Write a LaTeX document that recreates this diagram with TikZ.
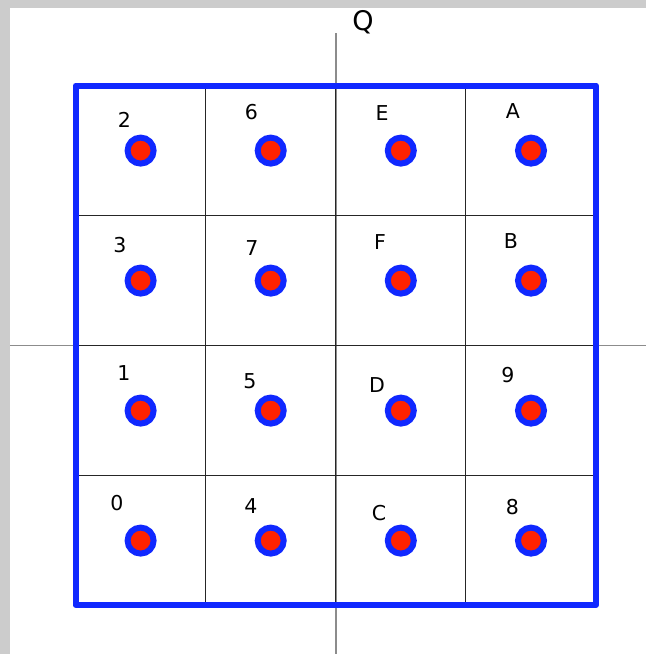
\documentclass[tikz,border=0pt]{standalone}
\usepackage{fontspec}
\setmainfont{DejaVu Sans}
\definecolor{ringblue}{RGB}{16,40,255}
\definecolor{dotred}{RGB}{255,34,0}
\definecolor{axisgray}{RGB}{140,140,140}
\tikzset{
    sym/.style={
        circle, draw=ringblue, fill=dotred,
        line width=6pt, % blue ring round the red dot
        minimum size=26pt, inner sep=0pt
    },
    lbl/.style={font=\fontsize{20.5}{24}\selectfont, inner sep=0pt}
}

\begin{document}
\begin{tikzpicture}[x=1pt, y=-1pt]
\useasboundingbox (0,0) rectangle (646,654);
\fill[black!20] (0,0) rectangle (10,654);
\fill[black!20] (0,0) rectangle (646,8);
% axes
\coordinate (il) at (10,345.5);
\coordinate (ir) at (646,345.5);
\coordinate (qt) at (336,33);
\coordinate (qb) at (336,654);
\draw[axisgray, line width=1.6pt] (il) -- (ir);
\draw[axisgray, line width=1.6pt] (qt) -- (qb);
\node[font=\fontsize{27}{30}\selectfont, inner sep=0pt] (Q) at (363,22) {Q};
% grid
\draw[black!85, line width=0.9pt] (205.6,85.5) -- (205.6,605);
\draw[black!85, line width=0.9pt] (335.8,85.5) -- (335.8,605);
\draw[black!85, line width=0.9pt] (465.9,85.5) -- (465.9,605);
\draw[black!85, line width=0.9pt] (75.5,215.4) -- (596,215.4);
\draw[black!85, line width=0.9pt] (75.5,345.5) -- (596,345.5);
\draw[black!85, line width=0.9pt] (75.5,475.3) -- (596,475.3);
\draw[ringblue, line width=6pt, line join=round] (75.5,85.5) rectangle (596,605);
% symbols
\node[sym] (s2) at (140.6,150.6) {};
\node[sym] (s6) at (270.7,150.6) {};
\node[sym] (sE) at (400.8,150.6) {};
\node[sym] (sA) at (531,150.6) {};
\node[sym] (s3) at (140.6,280.6) {};
\node[sym] (s7) at (270.7,280.6) {};
\node[sym] (sF) at (400.8,280.6) {};
\node[sym] (sB) at (531,280.6) {};
\node[sym] (s1) at (140.6,410.6) {};
\node[sym] (s5) at (270.7,410.6) {};
\node[sym] (sD) at (400.8,410.6) {};
\node[sym] (s9) at (531,410.6) {};
\node[sym] (s0) at (140.6,540.6) {};
\node[sym] (s4) at (270.7,540.6) {};
\node[sym] (sC) at (400.8,540.6) {};
\node[sym] (s8) at (531,540.6) {};
% labels
\node[lbl] (l2) at (124.5,120) {2};
\node[lbl] (l6) at (251.5,112.5) {6};
\node[lbl] (lE) at (382,113) {E};
\node[lbl] (lA) at (513,111) {A};
\node[lbl] (l3) at (120,245.5) {3};
\node[lbl] (l7) at (252,248) {7};
\node[lbl] (lF) at (380,242) {F};
\node[lbl] (lB) at (511,241) {B};
\node[lbl] (l1) at (124,373) {1};
\node[lbl] (l5) at (250,381) {5};
\node[lbl] (lD) at (377,385.5) {D};
\node[lbl] (l9) at (508,375) {9};
\node[lbl] (l0) at (117,503.5) {0};
\node[lbl] (l4) at (251,506) {4};
\node[lbl] (lC) at (379,513) {C};
\node[lbl] (l8) at (512.5,507) {8};
\end{tikzpicture}
\end{document}
